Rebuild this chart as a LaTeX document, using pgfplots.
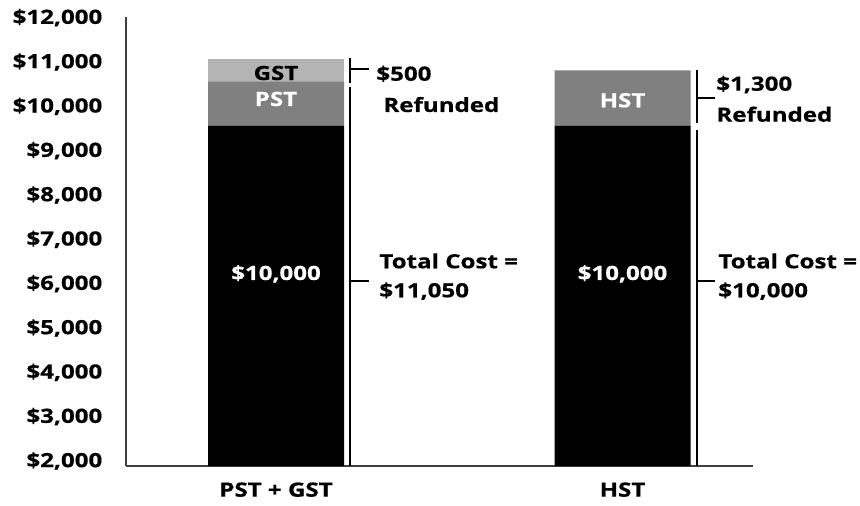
\documentclass[border=0pt]{standalone}
\usepackage{pgfplots}
\pgfplotsset{compat=1.18}
\usepackage{fontspec}
\setmainfont{Open Sans}[FakeStretch=1.23, BoldFeatures={FakeBold=0.6}]
\definecolor{pstgray}{RGB}{128,128,128}
\definecolor{gstgray}{RGB}{180,180,180}
\begin{document}
\fontsize{9.8pt}{11.5pt}\selectfont\bfseries
\begin{tikzpicture}
\useasboundingbox (-63pt,-19.5pt) rectangle (367pt,233pt);
\begin{axis}[
  at={(0,0)}, anchor=south west,
  scale only axis, width=313.5pt, height=224.5pt,
  xmin=-0.4329, xmax=1.3766, ymin=1887, ymax=12015,
  axis lines=left,
  axis line style={-, line width=0.7pt, black!75},
  ybar stacked, bar width=68pt,
  clip mode=individual,
  scaled y ticks=false,
  xtick={0,1}, xticklabels={PST + GST, HST},
  ytick={2000,3000,...,12000},
  yticklabels={{\$2,000},{\$3,000},{\$4,000},{\$5,000},{\$6,000},{\$7,000},{\$8,000},{\$9,000},{\$10,000},{\$11,000},{\$12,000}},
  major tick length=0pt,
  yticklabel style={xshift=-8.4pt},
  xticklabel style={yshift=-4.75pt},
]
\addplot[fill=black, draw=none] coordinates {(0,9560) (1,9560)};
\addplot[fill=pstgray, draw=none] coordinates {(0,996) (1,1253)};
\addplot[fill=gstgray, draw=none] coordinates {(0,505) (1,0)};

% anchor points for in-bar labels
\coordinate (lgst) at (axis cs:0,10594);
\coordinate (lpst) at (axis cs:0,10008);
\coordinate (lhst) at (axis cs:1,9979);
\coordinate (lb1) at (axis cs:0,6083);
\coordinate (lb2) at (axis cs:1,6083);

% brackets bar 1
\draw[line width=1pt] ([xshift=37pt]axis cs:0,11091) -- ([xshift=37pt]axis cs:0,10527);
\draw[line width=1pt] ([xshift=37pt]axis cs:0,10836) -- ([xshift=46.5pt]axis cs:0,10836);
\draw[line width=1pt] ([xshift=37pt]axis cs:0,10437) -- ([xshift=37pt]axis cs:0,1887);
\draw[line width=1pt] ([xshift=37pt]axis cs:0,6060) -- ([xshift=46.5pt]axis cs:0,6060);
% brackets bar 2
\draw[line width=1pt] ([xshift=37pt]axis cs:1,10813) -- ([xshift=37pt]axis cs:1,9618);
\draw[line width=1pt] ([xshift=37pt]axis cs:1,10182) -- ([xshift=46.25pt]axis cs:1,10182);
\draw[line width=1pt] ([xshift=37pt]axis cs:1,9467) -- ([xshift=37pt]axis cs:1,1887);
\draw[line width=1pt] ([xshift=37pt]axis cs:1,6060) -- ([xshift=46.25pt]axis cs:1,6060);

% annotations
\node[anchor=base west, inner sep=0pt] at ([xshift=50pt]axis cs:0,10579) {\$500};
\node[anchor=base west, inner sep=0pt] at ([xshift=53.5pt]axis cs:0,9873) {Refunded};
\node[anchor=base west, inner sep=0pt] at ([xshift=46.75pt]axis cs:1,10353) {\$1,300};
\node[anchor=base west, inner sep=0pt] at ([xshift=46.75pt]axis cs:1,9654) {Refunded};
\node[anchor=base west, inner sep=0pt] at ([xshift=51.5pt]axis cs:0,6347) {Total Cost =};
\node[anchor=base west, inner sep=0pt] at ([xshift=51.5pt]axis cs:0,5693) {\$11,050};
\node[anchor=base west, inner sep=0pt] at ([xshift=47.75pt]axis cs:1,6347) {Total Cost =};
\node[anchor=base west, inner sep=0pt] at ([xshift=47.75pt]axis cs:1,5693) {\$10,000};
\end{axis}
\node[anchor=base, inner sep=0pt] at (lgst) {GST};
\node[anchor=base, inner sep=0pt, text=white] at (lpst) {PST};
\node[anchor=base, inner sep=0pt, text=white] at (lhst) {HST};
\node[anchor=base, inner sep=0pt, text=white] at (lb1) {\$10,000};
\node[anchor=base, inner sep=0pt, text=white] at (lb2) {\$10,000};
\end{tikzpicture}
\end{document}
